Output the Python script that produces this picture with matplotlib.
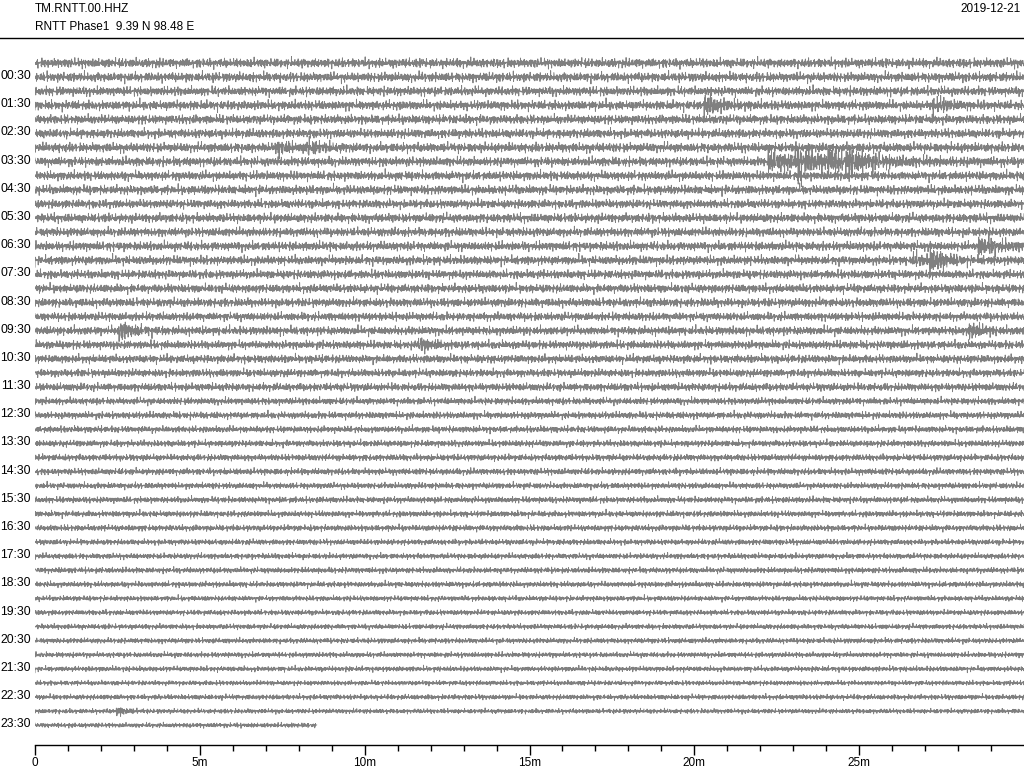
import numpy as np
import matplotlib
matplotlib.use("Agg")
import matplotlib.pyplot as plt
from matplotlib.lines import Line2D
import matplotlib.transforms as mtransforms

plt.rcParams['font.family'] = ['Liberation Sans', 'DejaVu Sans']

# header
station = "TM.RNTT.00.HHZ"
subtitle = "RNTT Phase1  9.39 N 98.48 E"
date = "2019-12-21"

# one row every 30 minutes, labels on the :30 rows
n_rows = 48
row_labels = ["%02d:30" % h for h in range(24)]
label_rows = list(range(1, 48, 2))
last_row_end = 8.55  # minutes of data in the last row

# background noise half-width per row (in row spacings), read by eye
noise = [0.22, 0.22, 0.21, 0.22, 0.21, 0.21, 0.22, 0.21,
         0.21, 0.21, 0.20, 0.21, 0.20, 0.21, 0.21, 0.20,
         0.20, 0.20, 0.19, 0.20, 0.19, 0.19, 0.18, 0.18,
         0.16, 0.16, 0.15, 0.15, 0.15, 0.15, 0.14, 0.14,
         0.14, 0.14, 0.13, 0.13, 0.13, 0.13, 0.12, 0.12,
         0.12, 0.12, 0.12, 0.12, 0.11, 0.12, 0.11, 0.11]

# events: row, onset minute, peak half-width, decay (minutes)
ev_row   = [3,    3,    6,    6,    7,    7,    7,    7,    13,   14,   14,   19,   19,   20,   46]
ev_start = [20.25, 27.2, 7.3,  8.2,  22.2, 23.1, 24.0, 24.6, 28.6, 26.6, 27.1, 2.5,  28.3, 11.6, 2.45]
ev_amp   = [0.55, 0.45, 0.32, 0.36, 0.42, 0.75, 0.55, 0.45, 0.45, 0.25, 0.65, 0.45, 0.40, 0.35, 0.20]
ev_decay = [0.45, 0.35, 0.35, 0.35, 2.2,  0.35, 0.5,  0.6,  0.6,  0.4,  0.4,  0.45, 0.35, 0.35, 0.25]

N = 4000
t = np.linspace(0, 30, N)
n = np.arange(N)
w = [0.91, 1.37, 1.83, 2.41, 2.87, 0.53, 2.13, 2.99]


def carrier(row):
    s = np.zeros(N)
    for k, wk in enumerate(w):
        s += np.sin(n * wk + row * (k + 1) * 1.731 + k * 0.77)
    s /= np.sqrt(len(w) / 2.0)
    return s / 1.6


fig = plt.figure(figsize=(10.24, 7.68), dpi=100)
ax = fig.add_axes([35 / 1024, 23 / 768, 1 - 35 / 1024, (745 - 40) / 768])

for r in range(n_rows):
    env = np.full(N, noise[r])
    for er, es, ea, ed in zip(ev_row, ev_start, ev_amp, ev_decay):
        if er == r:
            dt = t - es
            m = dt > 0
            env[m] += ea * np.exp(-dt[m] / ed) * np.clip(dt[m] / 0.04, 0, 1)
    y = env * carrier(r)
    keep = t <= (last_row_end if r == n_rows - 1 else 30)
    ax.plot(t[keep], r - y[keep], color='#808080', lw=0.65)

ax.set_xlim(0, 30)
ax.set_ylim((745 - 63) / 14.09, (40 - 63) / 14.09)

ax.set_xticks(range(0, 30, 5))
ax.set_xticklabels(["0"] + ["%dm" % m for m in range(5, 30, 5)])
ax.set_xticks(range(0, 30), minor=True)
ax.tick_params(axis='x', which='major', length=7, width=1, labelsize=8.5, pad=2)
ax.tick_params(axis='x', which='minor', length=4.5, width=1)

ax.set_yticks(label_rows)
ax.set_yticklabels(row_labels)
ax.tick_params(axis='y', length=0, labelsize=8.7, pad=3)
# row labels sit a little above their trace
shift = mtransforms.ScaledTranslation(0, 2.5 / 100, fig.dpi_scale_trans)
for lab in ax.get_yticklabels():
    lab.set_transform(lab.get_transform() + shift)

for side in ['left', 'right', 'top']:
    ax.spines[side].set_visible(False)
ax.spines['bottom'].set_linewidth(1)

fig.text(35 / 1024, 1 - 9 / 768, station, fontsize=8.5, va='center', ha='left')
fig.text(35 / 1024, 1 - 27 / 768, subtitle, fontsize=8.5, va='center', ha='left')
fig.text(1021 / 1024, 1 - 9 / 768, date, fontsize=8.5, va='center', ha='right')
fig.add_artist(Line2D([0, 1], [1 - 38 / 768] * 2, color='black', lw=1))

fig.savefig("out.png", dpi=100)
